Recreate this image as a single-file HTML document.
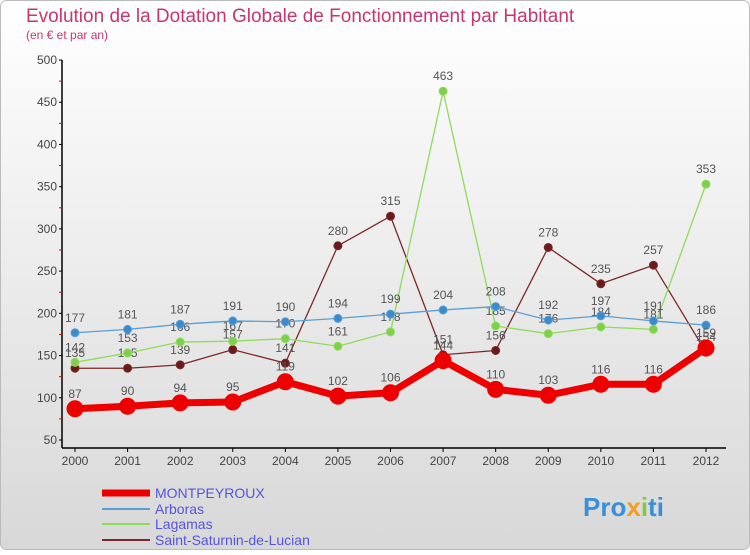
<!DOCTYPE html>
<html><head><meta charset="utf-8"><style>
body{margin:0;width:750px;height:550px;overflow:hidden;font-family:"Liberation Sans",sans-serif}
</style></head><body>
<svg id="c" width="750" height="550" xmlns="http://www.w3.org/2000/svg">
<defs><linearGradient id="bg" x1="0" y1="0" x2="0" y2="1"><stop offset="0" stop-color="#ffffff"/><stop offset="1" stop-color="#d8d8d8"/></linearGradient></defs>
<rect x="0.5" y="0.5" width="749" height="549" rx="6" fill="url(#bg)" stroke="#bbb"/>
<text x="26" y="22" font-size="19" fill="#c8366e">Evolution de la Dotation Globale de Fonctionnement par Habitant</text>
<text x="26" y="39" font-size="12" fill="#c8366e">(en € et par an)</text>
<g id="axes"></g><g id="series"></g>
<g>
<line x1="102" y1="493" x2="150" y2="493" stroke="#ee0000" stroke-width="7"/>
<text x="155" y="498" font-size="14" fill="#5555dd">MONTPEYROUX</text>
<line x1="102" y1="509" x2="150" y2="509" stroke="#5a9fd4" stroke-width="2"/>
<text x="155" y="514" font-size="14" fill="#5555dd">Arboras</text>
<line x1="102" y1="524" x2="150" y2="524" stroke="#8fdc5a" stroke-width="2"/>
<text x="155" y="529" font-size="14" fill="#5555dd">Lagamas</text>
<line x1="102" y1="540" x2="150" y2="540" stroke="#7a2a2a" stroke-width="2"/>
<text x="155" y="545" font-size="14" fill="#5555dd">Saint-Saturnin-de-Lucian</text>
</g>
<text x="583" y="516" font-size="26" font-weight="bold" fill="#3a8fd8">Pro<tspan fill="#f0a020">x</tspan><tspan fill="#8cc63f">i</tspan>ti</text>
</svg>
<script>
const years=[2000,2001,2002,2003,2004,2005,2006,2007,2008,2009,2010,2011,2012];
const yTicks=[50,100,150,200,250,300,350,400,450,500];
const montpeyroux=[87,90,94,95,119,102,106,144,110,103,116,116,159];
const arboras=[177,181,187,191,190,194,199,204,208,192,197,191,186];
const lagamas=[142,153,166,167,170,161,178,463,185,176,184,181,353];
const saintSaturnin=[135,135,139,157,141,280,315,151,156,278,235,257,154];
const NS="http://www.w3.org/2000/svg";
const x0=75,x1=706,yb=440,yt=60,vmin=50,vmax=500;
const X=i=>x0+(x1-x0)*i/(years.length-1);
const Y=v=>yb-(yb-yt)*(v-vmin)/(vmax-vmin);
function mk(t,a,p){const e=document.createElementNS(NS,t);for(const k in a)e.setAttribute(k,a[k]);p.appendChild(e);return e;}
const ax=document.getElementById('axes'),sg=document.getElementById('series');
let l=mk('line',{x1:x0-13,y1:yt,x2:x0-13,y2:yb+8,stroke:'#000','stroke-width':1.5},ax);


l=mk('line',{x1:x0-13,y1:yb+8,x2:x1+20,y2:yb+8,stroke:'#000','stroke-width':1.5},ax);


yTicks.forEach((v,i)=>{
 const t=mk('text',{x:x0-18,y:Y(v)+4,'text-anchor':'end','font-size':12,fill:'#444'},ax);t.textContent=v;
 
 
 mk('line',{x1:x0-16,y1:Y(v),x2:x0-13,y2:Y(v),stroke:'#000'},ax);
 if(i<yTicks.length-1)mk('line',{x1:x0-16,y1:Y(v+25),x2:x0-13,y2:Y(v+25),stroke:'#e00'},ax);
});
years.forEach((yr,i)=>{
 const t=mk('text',{x:X(i),y:yb+25,'text-anchor':'middle','font-size':12,fill:'#444'},ax);t.textContent=yr;
 
 
 mk('line',{x1:X(i),y1:yb+8,x2:X(i),y2:yb+12,stroke:'#000'},ax);
});
function series(d,col,w,r,name,dot){
 const g=mk('g',{},sg);
 
 
 const p=mk('polyline',{points:d.map((v,i)=>X(i)+','+Y(v)).join(' '),fill:'none',stroke:col,'stroke-width':w,'stroke-linejoin':'round'},g);
 
 
 d.forEach((v,i)=>{
  const c=mk('circle',{cx:X(i),cy:Y(v),r:r,fill:dot,stroke:col,'stroke-width':1},g);
  
  
  const t=mk('text',{x:X(i),y:Y(v)-11,'text-anchor':'middle','font-size':12,fill:'#555'},g);t.textContent=v;
  
  
 });
}
series(saintSaturnin,'#7a2a2a',1.3,4,'saint-saturnin','#6a1a1a');
series(lagamas,'#8fdc5a',1.3,4,'lagamas','#7ed04a');
series(arboras,'#5a9fd4',1.3,4,'arboras','#3a8acc');
series(montpeyroux,'#ee0000',7,8,'montpeyroux','#ee0000');
</script>
</body></html>
